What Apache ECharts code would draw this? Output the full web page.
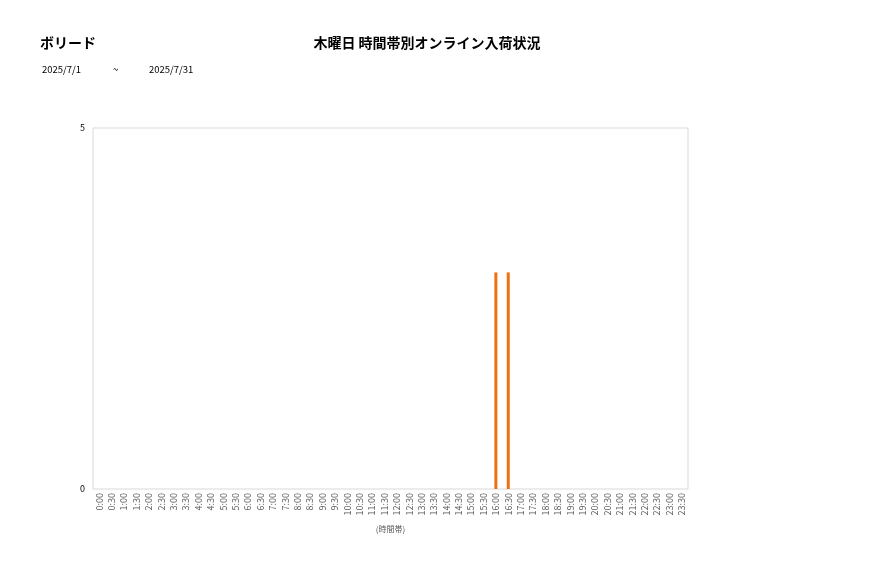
<!DOCTYPE html>
<html>
<head>
<meta charset="utf-8">
<script src="https://cdn.jsdelivr.net/npm/echarts@6/dist/echarts.min.js"></script>
<style>
html, body { margin: 0; padding: 0; background: #fff; }
#main { width: 877px; height: 578px; }
</style>
</head>
<body>
<div id="main"></div>
<script>
// 時間帯 (0:00 ~ 23:30)
var timeSlots = [
    '0:00', '0:30', '1:00', '1:30', '2:00', '2:30', '3:00', '3:30',
    '4:00', '4:30', '5:00', '5:30', '6:00', '6:30', '7:00', '7:30',
    '8:00', '8:30', '9:00', '9:30', '10:00', '10:30', '11:00', '11:30',
    '12:00', '12:30', '13:00', '13:30', '14:00', '14:30', '15:00', '15:30',
    '16:00', '16:30', '17:00', '17:30', '18:00', '18:30', '19:00', '19:30',
    '20:00', '20:30', '21:00', '21:30', '22:00', '22:30', '23:00', '23:30'
];
// 入荷件数
var arrivals = [
    0, 0, 0, 0, 0, 0, 0, 0,
    0, 0, 0, 0, 0, 0, 0, 0,
    0, 0, 0, 0, 0, 0, 0, 0,
    0, 0, 0, 0, 0, 0, 0, 0,
    3, 3, 0, 0, 0, 0, 0, 0,
    0, 0, 0, 0, 0, 0, 0, 0
];
var shopName = 'ボリード';
var chartTitle = '木曜日 時間帯別オンライン入荷状況';
var dateFrom = '2025/7/1';
var dateTo = '2025/7/31';

var myChart = echarts.init(document.getElementById('main'));
var font = '"Noto Sans CJK JP", "Noto Sans", sans-serif';

var option = {
    backgroundColor: '#fff',
    animation: false,
    textStyle: { fontFamily: font },
    title: [
        {
            text: shopName,
            left: 35, top: 31,
            textStyle: { fontSize: 14, fontWeight: 'bold', color: '#000', fontFamily: font }
        },
        {
            text: chartTitle,
            left: 422, top: 31, textAlign: 'center',
            textStyle: { fontSize: 14, fontWeight: 'bold', color: '#000', fontFamily: font }
        }
    ],
    graphic: [
        { type: 'text', left: 42, top: 65, style: { text: dateFrom, fontSize: 9.5, fill: '#000', fontFamily: font } },
        { type: 'text', left: 113, top: 65, style: { text: '~', fontSize: 9.5, fill: '#000', fontFamily: font } },
        { type: 'text', left: 149, top: 65, style: { text: dateTo, fontSize: 9.5, fill: '#000', fontFamily: font } }
    ],
    grid: {
        left: 93, top: 128, width: 595, height: 361,
        show: true,
        borderColor: '#d9d9d9',
        borderWidth: 1,
        containLabel: false
    },
    xAxis: {
        type: 'category',
        data: timeSlots,
        name: '(時間帯)',
        nameLocation: 'middle',
        nameGap: 36,
        nameTextStyle: { fontSize: 8, color: '#595959' },
        axisLine: { show: false },
        axisTick: { show: false },
        axisLabel: {
            interval: 0,
            rotate: 90,
            fontSize: 9,
            color: '#595959',
            margin: 4,
            padding: [6, 0, 0, 0]
        }
    },
    yAxis: {
        type: 'value',
        min: 0, max: 5, interval: 5,
        axisLine: { show: false },
        axisTick: { show: false },
        splitLine: { show: false },
        axisLabel: { fontSize: 9, color: '#000', margin: 8 }
    },
    series: [
        {
            type: 'bar',
            data: arrivals,
            barWidth: 3,
            itemStyle: { color: '#f07010' }
        }
    ]
};
myChart.setOption(option);
</script>
</body>
</html>
